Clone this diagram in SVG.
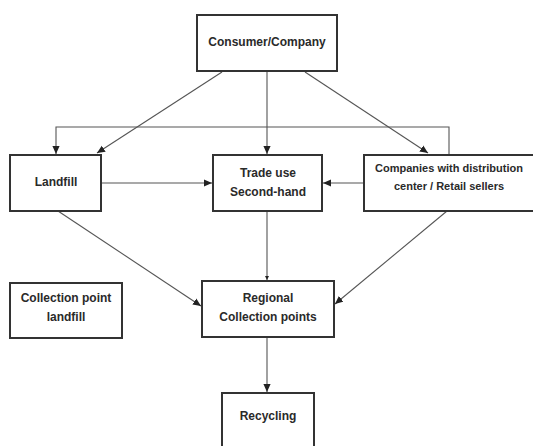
<svg xmlns="http://www.w3.org/2000/svg" width="533" height="446" viewBox="0 0 533 446">
<defs>
<style>
.box{fill:#fff;stroke:#333;stroke-width:2}
.ln{fill:none;stroke:#555;stroke-width:1.1}
.t{font-family:"Liberation Sans",Arial,sans-serif;font-weight:bold;font-size:12px;fill:#2a2a2a;text-anchor:middle}
.s{font-size:11px}
</style>
<marker id="ah" viewBox="0 0 10 10" refX="10" refY="5" markerWidth="8" markerHeight="8" markerUnits="userSpaceOnUse" orient="auto">
<path d="M0,0.5 L10,5 L0,9.5 z" fill="#222"/>
</marker>
<marker id="sm" viewBox="0 0 10 10" refX="10" refY="5" markerWidth="4" markerHeight="4" markerUnits="userSpaceOnUse" orient="auto">
<path d="M0,0 L10,5 L0,10 z" fill="#222"/>
</marker>
</defs>
<rect width="533" height="446" fill="#fff"/>
<g id="connectors">
<path class="ln" d="M222,72 L97,153" marker-end="url(#ah)"/>
<path class="ln" d="M267,72 L267,154" marker-end="url(#ah)"/>
<path class="ln" d="M305,72 L428,153" marker-end="url(#ah)"/>
<path class="ln" d="M449,155 L449,127 L56,127 L56,154" marker-end="url(#ah)"/>
<path class="ln" d="M101,183 L212,183" marker-end="url(#ah)"/>
<path class="ln" d="M364,183 L323,183" marker-end="url(#ah)"/>
<path class="ln" d="M58,211 L201,306" marker-end="url(#ah)"/>
<path class="ln" d="M267,211 L267,280" marker-end="url(#sm)"/>
<path class="ln" d="M447,211 L335,304" marker-end="url(#ah)"/>
<path class="ln" d="M267,338 L267,392" marker-end="url(#ah)"/>
</g>
<g id="consumer">
<rect class="box" x="197" y="15" width="140" height="56"/>
<text class="t" x="267" y="46">Consumer/Company</text>
</g>
<g id="landfill">
<rect class="box" x="10" y="155" width="91" height="56"/>
<text class="t" x="56" y="186">Landfill</text>
</g>
<g id="trade">
<rect class="box" x="213" y="155" width="109" height="56"/>
<text class="t" x="268" y="177">Trade use</text>
<text class="t" x="268" y="196">Second-hand</text>
</g>
<g id="companies">
<rect class="box" x="364" y="155" width="172" height="56"/>
<text class="t s" x="449" y="172">Companies with distribution</text>
<text class="t s" x="449" y="190">center / Retail sellers</text>
</g>
<g id="collection-landfill">
<rect class="box" x="10" y="283" width="112" height="55"/>
<text class="t" x="66" y="302">Collection point</text>
<text class="t" x="66" y="321">landfill</text>
</g>
<g id="regional">
<rect class="box" x="202" y="281" width="132" height="56"/>
<text class="t" x="268" y="302">Regional</text>
<text class="t" x="268" y="321">Collection points</text>
</g>
<g id="recycling">
<rect class="box" x="222" y="393" width="92" height="60"/>
<text class="t" x="268" y="420">Recycling</text>
</g>
</svg>
